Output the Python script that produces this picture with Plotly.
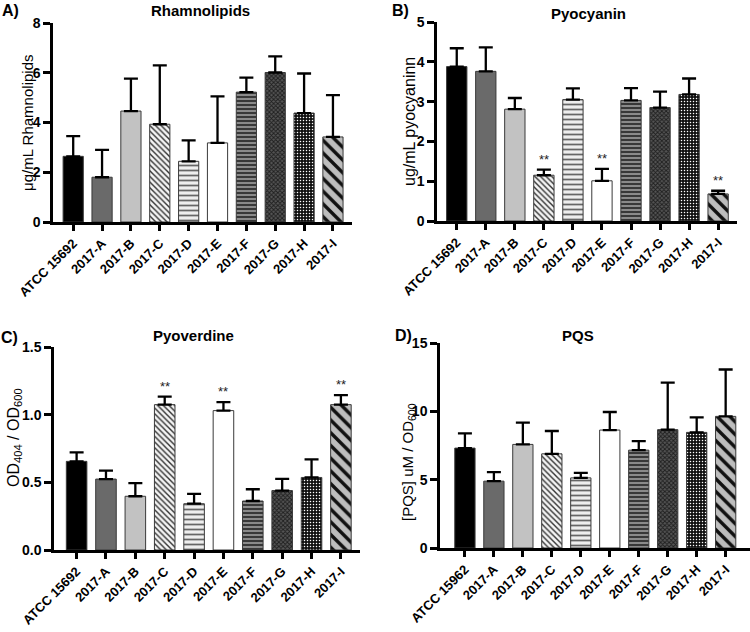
import plotly.graph_objects as go

# ---------------- data ----------------
categories_abc = ["ATCC 15692", "2017-A", "2017-B", "2017-C", "2017-D",
                  "2017-E", "2017-F", "2017-G", "2017-H", "2017-I"]
categories_d = ["ATCC 15962", "2017-A", "2017-B", "2017-C", "2017-D",
                "2017-E", "2017-F", "2017-G", "2017-H", "2017-I"]

rhamno_mean = [2.64, 1.80, 4.46, 3.93, 2.44, 3.18, 5.22, 6.01, 4.38, 3.42]
rhamno_sd = [0.81, 1.10, 1.30, 2.37, 0.84, 1.87, 0.58, 0.65, 1.59, 1.68]

pyocy_mean = [3.88, 3.76, 2.81, 1.15, 3.05, 1.01, 3.03, 2.85, 3.18, 0.68]
pyocy_sd = [0.46, 0.60, 0.28, 0.14, 0.28, 0.30, 0.31, 0.40, 0.40, 0.08]
pyocy_sig = ["", "", "", "**", "", "**", "", "", "", "**"]

pyover_mean = [0.655, 0.524, 0.397, 1.074, 0.342, 1.030, 0.362, 0.439, 0.536, 1.074]
pyover_sd = [0.067, 0.062, 0.097, 0.060, 0.072, 0.062, 0.087, 0.087, 0.134, 0.070]
pyover_sig = ["", "", "", "**", "", "**", "", "", "", "**"]

pqs_mean = [7.31, 4.89, 7.58, 6.89, 5.13, 8.63, 7.16, 8.66, 8.46, 9.63]
pqs_sd = [1.08, 0.66, 1.59, 1.67, 0.37, 1.32, 0.66, 3.44, 1.10, 3.43]

# ---------------- styles ----------------
W, H = 750, 632
FONT = "Arial, Liberation Sans, sans-serif"

bar_styles = [
    dict(color="#000000", pattern=dict(shape="")),
    dict(color="#6a6a6a", pattern=dict(shape="")),
    dict(color="#c2c2c2", pattern=dict(shape="")),
    dict(color="#f4f4f4", pattern=dict(shape="\\", bgcolor="#f4f4f4", fgcolor="#333333",
                                       size=4, solidity=0.35, fillmode="replace")),
    dict(color="#eeeeee", pattern=dict(shape="-", bgcolor="#eeeeee", fgcolor="#666666",
                                       size=5, solidity=0.35, fillmode="replace")),
    dict(color="#ffffff", pattern=dict(shape="")),
    dict(color="#8a8a8a", pattern=dict(shape="-", bgcolor="#8a8a8a", fgcolor="#2e2e2e",
                                       size=4, solidity=0.45, fillmode="replace")),
    dict(color="#555555", pattern=dict(shape="x", bgcolor="#555555", fgcolor="#1e1e1e",
                                       size=3, solidity=0.5, fillmode="replace")),
    dict(color="#111111", pattern=dict(shape=".", bgcolor="#111111", fgcolor="#ffffff",
                                       size=3, solidity=0.2, fillmode="replace")),
    dict(color="#bdbdbd", pattern=dict(shape="\\", bgcolor="#bdbdbd", fgcolor="#111111",
                                       size=9, solidity=0.38, fillmode="replace")),
]


def px_x(p):
    return p / W


def px_y(p):
    return 1 - p / H


panels = [
    dict(cats=categories_abc, mean=rhamno_mean, sd=rhamno_sd, sig=None,
         xdom=(53, 352), ydom=(23, 222), xr=(-0.7, 9.66), yr=(0, 8), dtick=2, fmt="",
         title="Rhamnolipids", title_xy=(200, 11), label="A)", label_xy=(10, 11),
         ytitle="μg/mL Rhamnolipids", ytitle_xy=(27, 123), tsize=15),
    dict(cats=categories_abc, mean=pyocy_mean, sd=pyocy_sd, sig=pyocy_sig,
         xdom=(437, 737), ydom=(22, 221), xr=(-0.68, 9.65), yr=(0, 5), dtick=1, fmt="",
         title="Pyocyanin", title_xy=(588, 13), label="B)", label_xy=(400, 11),
         ytitle="ug/mL pyocyaninn", ytitle_xy=(409, 122), tsize=16),
    dict(cats=categories_abc, mean=pyover_mean, sd=pyover_sd, sig=pyover_sig,
         xdom=(54, 360), ydom=(347, 550), xr=(-0.77, 9.65), yr=(0, 1.5), dtick=0.5, fmt=".1f",
         title="Pyoverdine", title_xy=(193, 335), label="C)", label_xy=(9, 337),
         ytitle="OD<sub>404</sub> / OD<sub>600</sub>", ytitle_xy=(14, 438), tsize=16),
    dict(cats=categories_d, mean=pqs_mean, sd=pqs_sd, sig=None,
         xdom=(440, 750), ydom=(343, 548), xr=(-0.86, 9.84), yr=(0, 15), dtick=5, fmt="",
         title="PQS", title_xy=(578, 335), label="D)", label_xy=(404, 336),
         ytitle="[PQS] uM / OD<sub>600</sub>", ytitle_xy=(408, 462), tsize=15),
]

fig = go.Figure()
annotations = []
layout_axes = {}

for i, p in enumerate(panels):
    n = i + 1
    xa = "x" if n == 1 else f"x{n}"
    ya = "y" if n == 1 else f"y{n}"
    xkey = "xaxis" if n == 1 else f"xaxis{n}"
    ykey = "yaxis" if n == 1 else f"yaxis{n}"

    xpos = list(range(len(p["cats"])))
    for j, c in enumerate(p["cats"]):
        st = bar_styles[j]
        fig.add_trace(go.Bar(
            x=[xpos[j]], y=[p["mean"][j]], width=0.7,
            xaxis=xa, yaxis=ya, showlegend=False,
            marker=dict(color=st["color"], pattern=st["pattern"],
                        line=dict(color="#3a3a3a", width=1)),
            error_y=dict(type="data", symmetric=False, array=[p["sd"][j]],
                         arrayminus=[0], color="black", thickness=2.3, width=7),
            hoverinfo="skip",
        ))
        if p["sig"] and p["sig"][j]:
            annotations.append(dict(
                x=xpos[j], y=p["mean"][j] + p["sd"][j], xref=xa, yref=ya,
                text=p["sig"][j], showarrow=False, yanchor="bottom", yshift=1,
                font=dict(family=FONT, size=13, color="#222")))

    layout_axes[xkey] = dict(
        domain=[px_x(p["xdom"][0]), px_x(p["xdom"][1])], anchor=ya, automargin=False,
        range=list(p["xr"]), tickmode="array", tickvals=xpos, ticktext=p["cats"],
        tickangle=-45, showline=True, linewidth=2.5, linecolor="black",
        ticks="outside", ticklen=6, tickwidth=2.5, tickcolor="black",
        showgrid=False, zeroline=False, fixedrange=True,
        tickfont=dict(family=FONT, size=13, color="black", weight="bold"),
    )
    layout_axes[ykey] = dict(
        domain=[px_y(p["ydom"][1]), px_y(p["ydom"][0])], anchor=xa, automargin=False,
        range=list(p["yr"]), dtick=p["dtick"], tick0=0, tickformat=p["fmt"],
        showline=True, linewidth=2.5, linecolor="black",
        ticks="outside", ticklen=7, tickwidth=2.5, tickcolor="black",
        showgrid=False, zeroline=False, fixedrange=True,
        tickfont=dict(family=FONT, size=14, color="black", weight="bold"),
    )

    annotations.append(dict(
        x=px_x(p["title_xy"][0]), y=px_y(p["title_xy"][1]), xref="paper", yref="paper",
        text=f"<b>{p['title']}</b>", showarrow=False, xanchor="center", yanchor="middle",
        font=dict(family=FONT, size=15, color="black")))
    annotations.append(dict(
        x=px_x(p["label_xy"][0]), y=px_y(p["label_xy"][1]), xref="paper", yref="paper",
        text=f"<b>{p['label']}</b>", showarrow=False, xanchor="center", yanchor="middle",
        font=dict(family=FONT, size=16, color="black")))
    annotations.append(dict(
        x=px_x(p["ytitle_xy"][0]), y=px_y(p["ytitle_xy"][1]), xref="paper", yref="paper",
        text=p["ytitle"], showarrow=False, xanchor="center", yanchor="middle",
        textangle=-90, font=dict(family=FONT, size=p["tsize"], color="black")))

fig.update_layout(
    width=W, height=H, margin=dict(l=0, r=0, t=0, b=0, autoexpand=False),
    paper_bgcolor="white", plot_bgcolor="white", template="none",
    bargap=0.3, annotations=annotations, **layout_axes,
)

fig.write_html("out.html", config={"displayModeBar": False},
               post_script="document.body.style.margin='0';document.body.style.overflow='hidden';")
